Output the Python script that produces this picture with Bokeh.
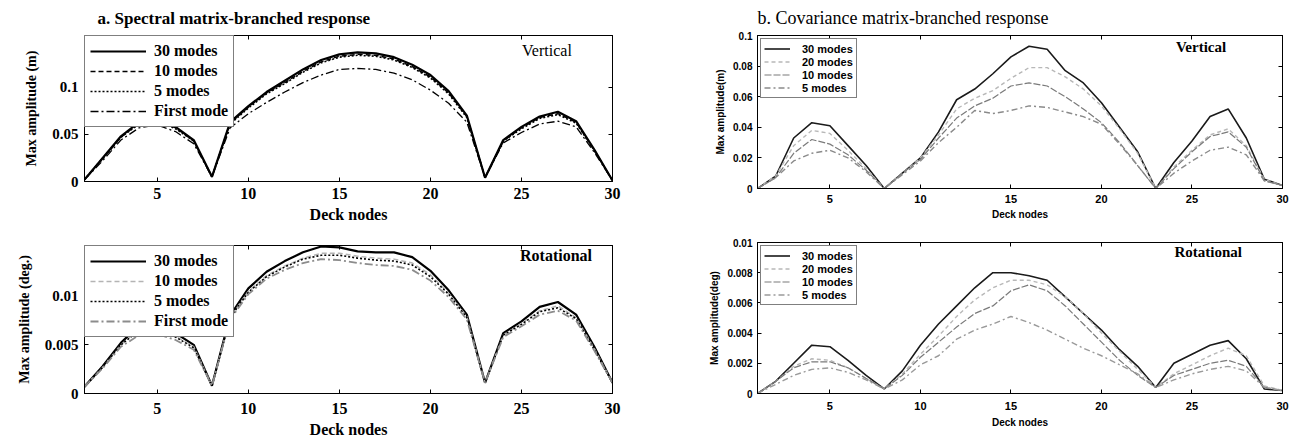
from bokeh.plotting import figure
from bokeh.layouts import row, column
from bokeh.models import (Range1d, FixedTicker, LinearAxis, CustomJSTickFormatter, Legend,
                          LegendItem, CustomLabelingPolicy)
from bokeh.core.properties import value
from bokeh.embed import file_html
from bokeh.resources import INLINE

# ---------------------------------------------------------------- data
nodes = list(range(1, 31))
x_ticks = [5, 10, 15, 20, 25, 30]

# a. spectral matrix-branched response, vertical (m)
spec_vert_30 = [0.002, 0.025, 0.048, 0.063, 0.066, 0.058, 0.044, 0.005, 0.063, 0.080,
                0.095, 0.107, 0.119, 0.129, 0.135, 0.137, 0.136, 0.132, 0.124, 0.113,
                0.096, 0.070, 0.004, 0.044, 0.058, 0.069, 0.074, 0.064, 0.034, 0.001]
spec_vert_10 = [0.002, 0.025, 0.047, 0.062, 0.065, 0.057, 0.043, 0.005, 0.062, 0.079,
                0.094, 0.105, 0.117, 0.127, 0.133, 0.135, 0.134, 0.130, 0.122, 0.111,
                0.094, 0.069, 0.004, 0.043, 0.057, 0.068, 0.072, 0.063, 0.033, 0.001]
spec_vert_5 = [0.002, 0.024, 0.047, 0.061, 0.064, 0.056, 0.043, 0.005, 0.061, 0.078,
               0.093, 0.104, 0.116, 0.126, 0.132, 0.134, 0.133, 0.129, 0.121, 0.110,
               0.093, 0.068, 0.004, 0.043, 0.056, 0.067, 0.071, 0.062, 0.033, 0.001]
spec_vert_1 = [0.002, 0.022, 0.044, 0.057, 0.060, 0.053, 0.040, 0.005, 0.057, 0.072,
               0.084, 0.095, 0.105, 0.113, 0.119, 0.120, 0.119, 0.115, 0.108, 0.097,
               0.083, 0.063, 0.004, 0.041, 0.052, 0.061, 0.064, 0.058, 0.031, 0.001]

# a. spectral matrix-branched response, rotational (deg.)
spec_rot_30 = [0.0007, 0.0028, 0.0052, 0.0070, 0.0072, 0.0062, 0.0050, 0.0008, 0.0080, 0.0108,
               0.0125, 0.0136, 0.0145, 0.0151, 0.0150, 0.0146, 0.0145, 0.0145, 0.0140, 0.0126,
               0.0106, 0.0081, 0.0011, 0.0062, 0.0074, 0.0089, 0.0094, 0.0081, 0.0048, 0.0011]
spec_rot_10 = [0.0007, 0.0027, 0.0050, 0.0066, 0.0067, 0.0059, 0.0048, 0.0008, 0.0078, 0.0105,
               0.0121, 0.0131, 0.0139, 0.0144, 0.0144, 0.0141, 0.0139, 0.0138, 0.0134, 0.0122,
               0.0103, 0.0079, 0.0011, 0.0060, 0.0072, 0.0085, 0.0090, 0.0078, 0.0046, 0.0011]
spec_rot_5 = [0.0007, 0.0027, 0.0050, 0.0065, 0.0066, 0.0058, 0.0047, 0.0008, 0.0078, 0.0104,
              0.0120, 0.0130, 0.0138, 0.0142, 0.0142, 0.0139, 0.0137, 0.0136, 0.0132, 0.0120,
              0.0102, 0.0078, 0.0011, 0.0060, 0.0071, 0.0084, 0.0088, 0.0077, 0.0045, 0.0011]
spec_rot_1 = [0.0007, 0.0026, 0.0048, 0.0060, 0.0061, 0.0055, 0.0045, 0.0008, 0.0076, 0.0102,
              0.0118, 0.0127, 0.0134, 0.0138, 0.0137, 0.0134, 0.0132, 0.0131, 0.0127, 0.0116,
              0.0099, 0.0076, 0.0011, 0.0058, 0.0069, 0.0081, 0.0085, 0.0075, 0.0044, 0.0011]

# b. covariance matrix-branched response, vertical (m)
cov_vert_30 = [0.000, 0.008, 0.033, 0.043, 0.041, 0.028, 0.015, 0.000, 0.010, 0.020,
               0.037, 0.058, 0.065, 0.075, 0.086, 0.093, 0.091, 0.077, 0.069, 0.056,
               0.040, 0.024, 0.000, 0.017, 0.031, 0.047, 0.052, 0.033, 0.006, 0.002]
cov_vert_20 = [0.000, 0.008, 0.028, 0.038, 0.036, 0.025, 0.013, 0.000, 0.010, 0.020,
               0.035, 0.052, 0.059, 0.064, 0.072, 0.079, 0.079, 0.073, 0.065, 0.054,
               0.039, 0.023, 0.000, 0.014, 0.025, 0.035, 0.039, 0.028, 0.006, 0.002]
cov_vert_10 = [0.000, 0.007, 0.023, 0.032, 0.029, 0.022, 0.012, 0.000, 0.010, 0.019,
               0.033, 0.046, 0.054, 0.059, 0.067, 0.069, 0.067, 0.060, 0.052, 0.043,
               0.030, 0.015, 0.000, 0.013, 0.024, 0.034, 0.037, 0.027, 0.005, 0.002]
cov_vert_5 = [0.000, 0.007, 0.018, 0.023, 0.025, 0.020, 0.011, 0.000, 0.009, 0.018,
              0.030, 0.040, 0.051, 0.049, 0.051, 0.054, 0.053, 0.050, 0.047, 0.042,
              0.029, 0.015, 0.000, 0.010, 0.018, 0.025, 0.027, 0.022, 0.005, 0.002]

# b. covariance matrix-branched response, rotational (deg)
cov_rot_30 = [0.0000, 0.0008, 0.0020, 0.0032, 0.0031, 0.0022, 0.0012, 0.0003, 0.0015, 0.0032,
              0.0046, 0.0058, 0.0070, 0.0080, 0.0080, 0.0078, 0.0075, 0.0064, 0.0053, 0.0042,
              0.0029, 0.0018, 0.0004, 0.0020, 0.0026, 0.0032, 0.0035, 0.0023, 0.0003, 0.0002]
cov_rot_20 = [0.0000, 0.0008, 0.0018, 0.0023, 0.0022, 0.0017, 0.0010, 0.0003, 0.0013, 0.0026,
              0.0038, 0.0051, 0.0062, 0.0070, 0.0075, 0.0075, 0.0072, 0.0064, 0.0053, 0.0040,
              0.0028, 0.0016, 0.0004, 0.0013, 0.0019, 0.0025, 0.0030, 0.0025, 0.0005, 0.0002]
cov_rot_10 = [0.0000, 0.0008, 0.0017, 0.0021, 0.0021, 0.0017, 0.0010, 0.0003, 0.0012, 0.0024,
              0.0034, 0.0044, 0.0053, 0.0058, 0.0068, 0.0072, 0.0068, 0.0058, 0.0046, 0.0034,
              0.0022, 0.0012, 0.0004, 0.0012, 0.0016, 0.0020, 0.0022, 0.0018, 0.0004, 0.0002]
cov_rot_5 = [0.0000, 0.0006, 0.0012, 0.0016, 0.0017, 0.0014, 0.0009, 0.0003, 0.0009, 0.0019,
             0.0025, 0.0036, 0.0042, 0.0046, 0.0051, 0.0047, 0.0042, 0.0036, 0.0030, 0.0025,
             0.0019, 0.0013, 0.0004, 0.0009, 0.0013, 0.0016, 0.0018, 0.0015, 0.0004, 0.0002]

vert_y_ticks_a = [0, 0.05, 0.1]
rot_y_ticks_a = [0, 0.005, 0.01]
vert_y_ticks_b = [0, 0.02, 0.04, 0.06, 0.08, 0.1]
rot_y_ticks_b = [0, 0.002, 0.004, 0.006, 0.008, 0.01]

SERIF = "Liberation Serif"
SANS = "Liberation Sans"


def box_axis(ticks):
    # tick marks only: the labelling policy keeps none of the labels
    return LinearAxis(ticker=FixedTicker(ticks=ticks), major_tick_in=4, major_tick_out=0,
                      minor_tick_line_color=None, major_label_standoff=0,
                      major_label_text_font_size="1px",
                      major_label_policy=CustomLabelingPolicy(code="return new Set()"),
                      axis_line_color="black")


def make_panel(width, height, borders, ymax, yticks, ylabel, xlabel, font, sizes, standoffs):
    left, right, top, bottom = borders
    tick_font, ylab_font, xlab_font = sizes
    p = figure(width=width, height=height, output_backend="svg", toolbar_location=None,
               x_range=Range1d(1, 30), y_range=Range1d(0, ymax),
               min_border_left=left, min_border_right=right,
               min_border_top=top, min_border_bottom=bottom)
    p.xgrid.visible = False
    p.ygrid.visible = False
    p.outline_line_color = "black"
    p.outline_line_width = 1
    p.background_fill_color = "white"
    p.border_fill_color = "white"

    xa, ya = p.xaxis[0], p.yaxis[0]
    xa.ticker = FixedTicker(ticks=x_ticks)
    ya.ticker = FixedTicker(ticks=yticks)
    ya.formatter = CustomJSTickFormatter(code="return String(parseFloat(tick.toFixed(6)));")
    for ax in (xa, ya):
        ax.major_tick_in = 4
        ax.major_tick_out = 0
        ax.minor_tick_line_color = None
        ax.axis_line_color = "black"
        ax.major_label_text_font = font
        ax.major_label_text_font_style = "bold"
        ax.major_label_text_color = "black"
        ax.axis_label_text_font = font
        ax.axis_label_text_font_style = "bold"
        ax.axis_label_text_color = "black"
    xa.major_label_text_font_size = tick_font[0]
    ya.major_label_text_font_size = tick_font[1]
    xa.axis_label = xlabel
    ya.axis_label = ylabel
    xa.axis_label_text_font_size = xlab_font
    ya.axis_label_text_font_size = ylab_font
    xa.major_label_standoff = standoffs[0]
    xa.axis_label_standoff = standoffs[1]
    ya.major_label_standoff = standoffs[2]
    ya.axis_label_standoff = standoffs[3]

    p.add_layout(box_axis(x_ticks), "above")
    p.add_layout(box_axis(yticks), "right")
    return p


def add_series(p, series, legend_style):
    items = []
    for label, ys, color, dash, lw in series:
        r = p.line(nodes, ys, line_color=color, line_dash=dash, line_width=lw)
        items.append(LegendItem(label=label, renderers=[r]))
    font, fsize, glyph_w, row_h, pad, standoff, margin = legend_style
    leg = Legend(items=items, location="top_left", margin=margin,
                 label_text_font=font, label_text_font_style="bold",
                 label_text_font_size=fsize, label_text_color="black",
                 glyph_width=glyph_w, glyph_height=row_h, label_height=row_h,
                 spacing=0, padding=pad, label_standoff=standoff,
                 border_line_color="black", border_line_width=1.2,
                 background_fill_color="white", background_fill_alpha=1.0)
    p.add_layout(leg, "center")


def tag(p, x, y, text, font, size, style):
    p.text(x=[x], y=[y], text=[text], text_font=value(font), text_font_size=size,
           text_font_style=style, text_align="center", text_baseline="middle",
           text_color="black")


def style_title(p, text, style, size, offset):
    p.title.text = text
    p.title.text_font = SERIF
    p.title.text_font_style = style
    p.title.text_font_size = size
    p.title.text_color = "black"
    p.title.align = "left"
    p.title.offset = offset
    p.title.standoff = 8


# ---------------------------------------------------------------- a. spectral
serif_sizes = (("16px", "15px"), "14px", "16px")
serif_legend = (SERIF, "16px", 56, 20, 5, 8, 0)

a_top = make_panel(680, 225, (84, 68, 35, 43), 0.155, vert_y_ticks_a,
                   "Max amplitude (m)", "Deck nodes", SERIF, serif_sizes, (6, 4, 6, 10))
style_title(a_top, "a. Spectral matrix-branched response", "bold", "17px", 13)
add_series(a_top, [
    ("30 modes", spec_vert_30, "black", "solid", 2.2),
    ("10 modes", spec_vert_10, "black", "5 3", 1.5),
    ("5 modes", spec_vert_5, "black", "2 2", 1.6),
    ("First mode", spec_vert_1, "black", "8 3 2 3", 1.3),
], serif_legend)
tag(a_top, 26.4, 0.139, "Vertical", SERIF, "16px", "normal")

a_bot = make_panel(680, 216, (84, 68, 20, 48), 0.0152, rot_y_ticks_a,
                   "Max amplitude (deg.)", "Deck nodes", SERIF, serif_sizes, (9, 4, 6, 10))
add_series(a_bot, [
    ("30 modes", spec_rot_30, "black", "solid", 2.2),
    ("10 modes", spec_rot_10, "#b4b4b4", "5 3", 1.5),
    ("5 modes", spec_rot_5, "black", "2 2", 1.6),
    ("First mode", spec_rot_1, "#8c8c8c", "8 3 2 3", 1.8),
], serif_legend)
tag(a_bot, 26.9, 0.0142, "Rotational", SERIF, "16px", "bold")

# ---------------------------------------------------------------- b. covariance
sans_sizes = (("11px", "10px"), "10px", "10px")
sans_legend = (SANS, "11px", 26, 13, 3, 12, 3)

b_top = make_panel(616, 228, (77, 14, 35, 40), 0.1, vert_y_ticks_b,
                   "Max amplitude(m)", "Deck nodes", SANS, sans_sizes, (6, 3, 5, 4))
style_title(b_top, "b. Covariance matrix-branched response", "normal", "18px", 0)
add_series(b_top, [
    ("30 modes", cov_vert_30, "#1a1a1a", "solid", 1.6),
    ("20 modes", cov_vert_20, "#b8b8b8", "4 3", 1.4),
    ("10 modes", cov_vert_10, "#7a7a7a", "7 2", 1.2),
    ("5 modes", cov_vert_5, "#8a8a8a", "6 3 2 3", 1.4),
], sans_legend)
tag(b_top, 25.5, 0.0922, "Vertical", SERIF, "15px", "bold")

b_bot = make_panel(616, 213, (77, 14, 14, 48), 0.01, rot_y_ticks_b,
                   "Max amplitude(deg)", "Deck nodes", SANS, sans_sizes, (8, 4, 5, 4))
add_series(b_bot, [
    ("30 modes", cov_rot_30, "#1a1a1a", "solid", 1.6),
    ("20 modes", cov_rot_20, "#b8b8b8", "4 3", 1.4),
    ("10 modes", cov_rot_10, "#7a7a7a", "7 2", 1.2),
    ("5 modes", cov_rot_5, "#9a9a9a", "6 3 2 3", 1.4),
], sans_legend)
tag(b_bot, 25.9, 0.00934, "Rotational", SERIF, "15px", "bold")

layout = row(column(a_top, a_bot), column(b_top, b_bot))

open("out.html", "w").write(file_html(layout, INLINE))
